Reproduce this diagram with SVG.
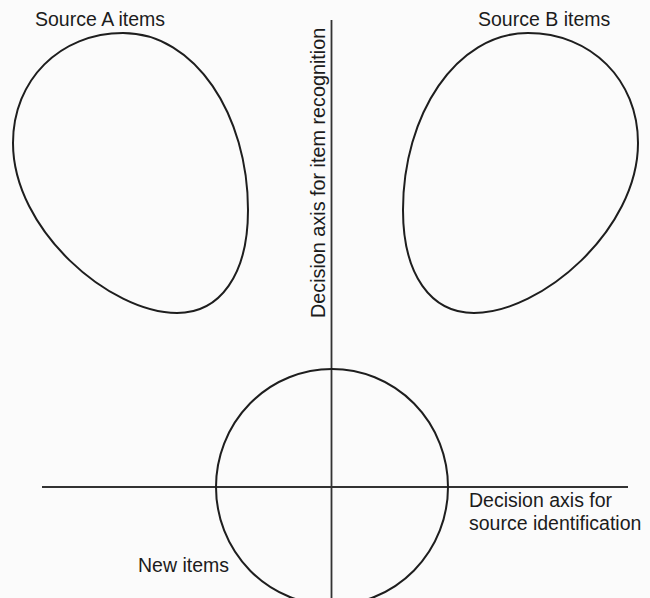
<svg xmlns="http://www.w3.org/2000/svg" width="650" height="598" viewBox="0 0 650 598">
<style>
.shape{fill:none;stroke:#1e1e1e;stroke-width:2}
.axis{fill:none;stroke:#333;stroke-width:1.8}
.lbl{font-family:"Liberation Sans",Arial,sans-serif;font-size:19.5px;fill:#1c1c1c}
</style>
<defs>
<path id="egg" d="M123,33 C195,33 248,115 248,210 C248,275 220,313 177,313 C110,313 13,230 13,143 C13,80 60,33 123,33 Z"/>
</defs>
<rect width="650" height="598" fill="#fbfbfb"/>
<g id="connectors">
<line class="axis" x1="331.5" y1="20" x2="331.5" y2="598"/>
<line class="axis" x1="42" y1="487" x2="628" y2="487"/>
</g>
<g id="sourceA">
<use href="#egg" class="shape"/>
<text class="lbl" x="35" y="26">Source A items</text>
</g>
<g id="sourceB">
<use href="#egg" class="shape" transform="translate(651,0) scale(-1,1)"/>
<text class="lbl" x="478" y="26">Source B items</text>
</g>
<g id="newItems">
<ellipse class="shape" cx="332" cy="487" rx="116" ry="118"/>
<text class="lbl" x="138" y="572">New items</text>
</g>
<g id="axisRecognition">
<text class="lbl" style="font-size:19.8px" transform="translate(325,318) rotate(-90)">Decision axis for item recognition</text>
</g>
<g id="axisSource">
<text class="lbl" x="469" y="507">Decision axis for</text>
<text class="lbl" x="469" y="530">source identification</text>
</g>
</svg>
